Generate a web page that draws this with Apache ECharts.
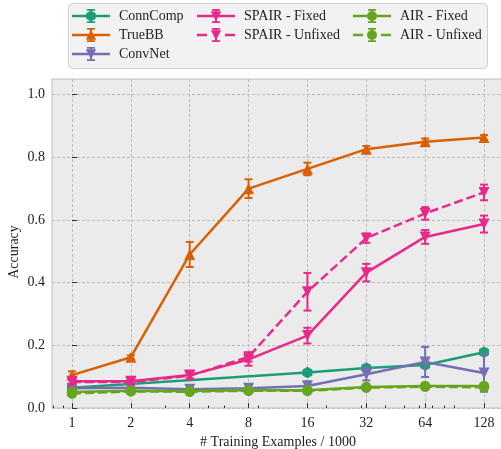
<!DOCTYPE html>
<html>
<head>
<meta charset="utf-8">
<script src="https://cdn.jsdelivr.net/npm/echarts@6/dist/echarts.min.js"></script>
<style>
  html, body { margin: 0; padding: 0; background: #ffffff; }
  #chart { width: 501px; height: 449px; }
</style>
</head>
<body>
<div id="chart"></div>
<script>
// Training-set sizes (thousands of examples), plotted on a log2 scale
const sizes = [1, 2, 4, 8, 16, 32, 64, 128];
const sizeTicks = [1, 2, 4, 8, 16, 32, 64, 128];
const minorSizeTicks = [0.8, 0.9, 3, 5, 6, 9, 20, 30, 40, 50, 60, 70, 80, 90];
const accuracyTicks = [0.0, 0.2, 0.4, 0.6, 0.8, 1.0];

// ConnComp was only evaluated at a subset of sizes
const connCompSizes = [1, 16, 32, 64, 128];
const connComp = [0.065, 0.113, 0.128, 0.137, 0.178];
const connCompErr = [0.005, 0.008, 0.007, 0.008, 0.008];

const trueBB = [0.105, 0.162, 0.490, 0.700, 0.763, 0.826, 0.850, 0.863];
const trueBBErr = [0.012, 0.006, 0.040, 0.030, 0.020, 0.010, 0.010, 0.008];

const convNet = [0.063, 0.065, 0.060, 0.063, 0.070, 0.108, 0.147, 0.112];
const convNetErr = [0.005, 0.005, 0.006, 0.008, 0.015, 0.020, 0.048, 0.060];

const spairFixed = [0.085, 0.085, 0.105, 0.155, 0.231, 0.432, 0.546, 0.587];
const spairFixedErr = [0.008, 0.008, 0.010, 0.020, 0.025, 0.028, 0.022, 0.027];

const spairUnfixed = [0.083, 0.083, 0.103, 0.163, 0.371, 0.542, 0.621, 0.688];
const spairUnfixedErr = [0.008, 0.008, 0.010, 0.015, 0.060, 0.015, 0.020, 0.025];

const airFixed = [0.051, 0.055, 0.054, 0.057, 0.057, 0.067, 0.070, 0.070];
const airFixedErr = [0.004, 0.004, 0.004, 0.004, 0.004, 0.004, 0.004, 0.004];

const airUnfixed = [0.046, 0.053, 0.052, 0.055, 0.055, 0.065, 0.068, 0.066];
const airUnfixedErr = [0.004, 0.004, 0.004, 0.004, 0.004, 0.004, 0.004, 0.004];

const FONT = 'Liberation Serif, Times New Roman, serif';
const log2 = v => Math.log2(v);

const C_CONN = '#1b9e77', C_TRUE = '#d95f02', C_CONV = '#7570b3', C_SPAIR = '#e7298a', C_AIR = '#66a61e';

// Marker shapes
const HEX = 'path://M0,-10L8.66,-5L8.66,5L0,10L-8.66,5L-8.66,-5Z';

// Legend glyphs: line (solid or dashed) + error bar + marker, in a 38x14 box
const markerPaths = {
  circle: 'M14 7A5 5 0 1 1 24 7A5 5 0 1 1 14 7Z',
  up: 'M19 1.8L24.2 11.8L13.8 11.8Z',
  down: 'M13.8 2.2L24.2 2.2L19 12.2Z',
  hex: 'M19 1.5L23.76 4.25L23.76 9.75L19 12.5L14.24 9.75L14.24 4.25Z'
};
function legendGlyph(marker, dashed) {
  const line = dashed
    ? 'M0 5.8H10V8.2H0Z M28 5.8H38V8.2H28Z'
    : 'M0 5.8H38V8.2H0Z';
  const bar = 'M18 0H20V14H18Z M15 0H23V1.8H15Z M15 12.2H23V14H15Z';
  return 'path://' + line + ' ' + bar + ' ' + markerPaths[marker];
}

function pairs(xs, ys) { return xs.map((x, i) => [log2(x), ys[i]]); }
function errTriples(xs, ys, es) { return xs.map((x, i) => [log2(x), ys[i], es[i]]); }

const DASH = [9, 4];

function lineSeries(name, xs, ys, color, symbol, size, dashed, rotate, z) {
  return {
    name: name,
    type: 'line',
    data: pairs(xs, ys),
    symbol: symbol,
    symbolSize: size,
    symbolRotate: rotate || 0,
    showAllSymbol: true,
    color: color,
    lineStyle: { color: color, width: 2.5, type: dashed ? DASH : 'solid' },
    itemStyle: { color: color, borderWidth: 0 },
    emphasis: { disabled: true },
    animation: false,
    z: z
  };
}

function errorSeries(name, xs, ys, es, color, z) {
  return {
    name: name,
    type: 'custom',
    data: errTriples(xs, ys, es),
    encode: { x: 0, y: 1 },
    color: color,
    itemStyle: { color: color },
    animation: false,
    z: z,
    renderItem: function (params, api) {
      const x = api.value(0), y = api.value(1), e = api.value(2);
      const lo = api.coord([x, y - e]);
      const hi = api.coord([x, y + e]);
      const cap = 4;
      const st = { stroke: color, lineWidth: 2 };
      return {
        type: 'group',
        children: [
          { type: 'line', shape: { x1: lo[0], y1: lo[1], x2: hi[0], y2: hi[1] }, style: st },
          { type: 'line', shape: { x1: lo[0] - cap, y1: lo[1], x2: lo[0] + cap, y2: lo[1] }, style: st },
          { type: 'line', shape: { x1: hi[0] - cap, y1: hi[1], x2: hi[0] + cap, y2: hi[1] }, style: st }
        ]
      };
    }
  };
}

const series = [
  lineSeries('ConnComp', connCompSizes, connComp, C_CONN, HEX, [10, 11.5], false, 0, 2),
  errorSeries('ConnComp', connCompSizes, connComp, connCompErr, C_CONN, 2),
  lineSeries('TrueBB', sizes, trueBB, C_TRUE, 'triangle', 11, false, 0, 3),
  errorSeries('TrueBB', sizes, trueBB, trueBBErr, C_TRUE, 3),
  lineSeries('ConvNet', sizes, convNet, C_CONV, 'triangle', 11, false, 180, 4),
  errorSeries('ConvNet', sizes, convNet, convNetErr, C_CONV, 4),
  lineSeries('SPAIR - Fixed', sizes, spairFixed, C_SPAIR, 'triangle', 11, false, 180, 5),
  errorSeries('SPAIR - Fixed', sizes, spairFixed, spairFixedErr, C_SPAIR, 5),
  lineSeries('SPAIR - Unfixed', sizes, spairUnfixed, C_SPAIR, 'triangle', 11, true, 180, 6),
  errorSeries('SPAIR - Unfixed', sizes, spairUnfixed, spairUnfixedErr, C_SPAIR, 6),
  lineSeries('AIR - Fixed', sizes, airFixed, C_AIR, 'circle', 10.5, false, 0, 7),
  errorSeries('AIR - Fixed', sizes, airFixed, airFixedErr, C_AIR, 7),
  lineSeries('AIR - Unfixed', sizes, airUnfixed, C_AIR, 'circle', 10.5, true, 0, 8),
  errorSeries('AIR - Unfixed', sizes, airUnfixed, airUnfixedErr, C_AIR, 8)
];

function legendBlock(left, items) {
  return {
    orient: 'vertical',
    left: left,
    top: 9,
    padding: 0,
    itemWidth: 38,
    itemHeight: 14,
    itemGap: 5,
    selectedMode: false,
    symbolKeepAspect: true,
    itemStyle: { borderWidth: 0 },
    textStyle: { fontFamily: FONT, fontSize: 14, color: '#222', padding: [0, 0, 0, 4] },
    data: items.map(it => ({
      name: it[0],
      icon: legendGlyph(it[1], it[2]),
      itemStyle: { color: it[3], borderWidth: 0 }
    }))
  };
}

const chart = echarts.init(document.getElementById('chart'), null, { renderer: 'canvas' });

const gridLine = { show: true, lineStyle: { color: '#bdbdbd', type: [3, 2], width: 1 } };
const xMajor = sizeTicks.map(log2);
const xMinor = minorSizeTicks.map(log2);

chart.setOption({
  backgroundColor: '#ffffff',
  animation: false,
  graphic: [{
    type: 'rect',
    shape: { x: 68.5, y: 3.5, width: 419, height: 65, r: 4 },
    style: { fill: '#f2f2f2', stroke: '#d0d0d0', lineWidth: 1 },
    z: -1
  }, {
    // vertical axis title
    type: 'text',
    x: 14, y: 252,
    rotation: Math.PI / 2,
    style: { text: 'Accuracy', fontFamily: FONT, fontSize: 14, fill: '#222', align: 'center', verticalAlign: 'middle' }
  }],
  legend: [
    legendBlock(72, [['ConnComp', 'hex', false, C_CONN], ['TrueBB', 'up', false, C_TRUE], ['ConvNet', 'down', false, C_CONV]]),
    legendBlock(197, [['SPAIR - Fixed', 'down', false, C_SPAIR], ['SPAIR - Unfixed', 'down', true, C_SPAIR]]),
    legendBlock(353, [['AIR - Fixed', 'circle', false, C_AIR], ['AIR - Unfixed', 'circle', true, C_AIR]])
  ],
  grid: {
    left: 52, right: -3, top: 79, bottom: 41,
    outerBoundsMode: 'none',
    containLabel: false,
    show: true, backgroundColor: '#ebebeb', borderColor: '#bcbcbc', borderWidth: 1
  },
  xAxis: [{
    type: 'value',
    min: -0.34, max: 7.34,
    name: '# Training Examples / 1000',
    nameLocation: 'middle',
    nameGap: 24,
    nameTextStyle: { fontFamily: FONT, fontSize: 14, color: '#222' },
    axisLine: { show: false },
    axisTick: { show: true, inside: true, length: 5, customValues: xMajor, lineStyle: { color: '#333', width: 1 } },
    axisLabel: {
      customValues: xMajor, margin: 8,
      fontFamily: FONT, fontSize: 14, color: '#222',
      formatter: v => String(Math.round(Math.pow(2, v)))
    },
    splitLine: gridLine
  }, {
    type: 'value',
    min: -0.34, max: 7.34,
    axisLine: { show: false },
    position: 'bottom',
    axisTick: { show: true, inside: true, length: 2.5, customValues: xMinor, lineStyle: { color: '#333', width: 1 } },
    axisLabel: { show: false },
    splitLine: { show: false }
  }],
  yAxis: {
    type: 'value',
    min: 0, max: 1.05,
    axisLine: { show: false },
    axisTick: { show: true, inside: true, length: 5, customValues: accuracyTicks, lineStyle: { color: '#333', width: 1 } },
    axisLabel: {
      customValues: accuracyTicks, margin: 7,
      fontFamily: FONT, fontSize: 14, color: '#222',
      formatter: v => v.toFixed(1)
    },
    splitLine: gridLine
  },
  series: series
});
</script>
</body>
</html>
